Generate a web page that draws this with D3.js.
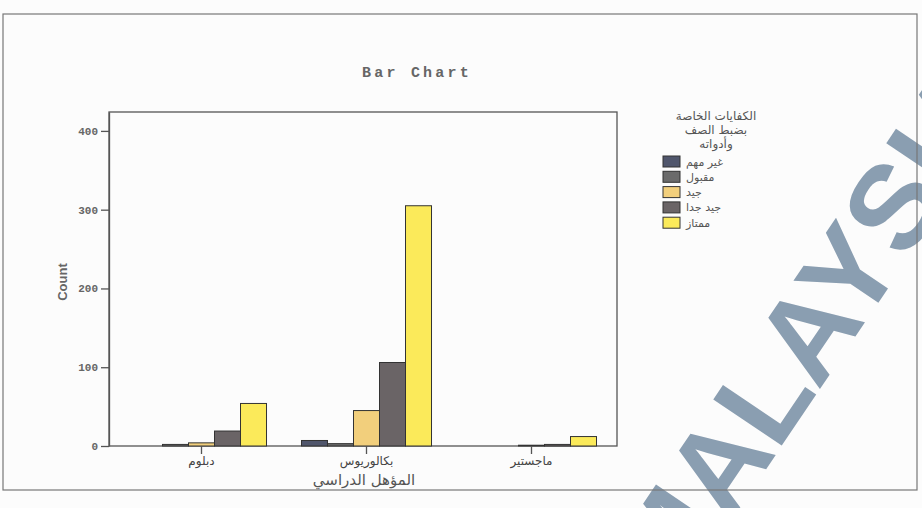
<!DOCTYPE html>
<html>
<head>
<meta charset="utf-8">
<script src="https://cdn.jsdelivr.net/npm/d3@7/dist/d3.min.js"></script>
<style>
  html, body { margin: 0; padding: 0; background: #fcfcfc; }
  svg { display: block; }
</style>
</head>
<body>
<div id="chart"></div>
<script>
// ---- data ----
const categories = ["دبلوم", "بكالوريوس", "ماجستير"];
const seriesNames = ["غير مهم", "مقبول", "جيد", "جيد جدا", "ممتاز"];
const ghairMuhim   = [0, 7, 0];
const maqbul       = [2, 3, 0];
const jayyid       = [4, 45, 1];
const jayyidJiddan = [19, 106, 2];
const mumtaz       = [54, 305, 12];
const yTicks = [0, 100, 200, 300, 400];
const legendTitleLines = ["الكفايات الخاصة", "بضبط الصف", "وأدواته"];
const chartTitle = "Bar Chart";
const xTitle = "المؤهل الدراسي";
const yTitle = "Count";
const watermark = "MALAYSIA";

const seriesValues = [ghairMuhim, maqbul, jayyid, jayyidJiddan, mumtaz];
const colors = ["#50566c", "#6b6b6b", "#f2cf7c", "#6a6466", "#fbea5a"];

const W = 922, H = 508;
const plot = { left: 109, right: 617, top: 112, bottom: 446 };

const svg = d3.select("#chart").append("svg")
  .attr("width", W).attr("height", H);

// watermark
svg.append("text")
  .attr("x", 673).attr("y", 607)
  .attr("transform", "rotate(-56,673,607)")
  .attr("font-family", "Liberation Sans, Arial, sans-serif")
  .attr("font-weight", "bold")
  .attr("font-size", 120)
  .attr("fill", "#7e94a9")
  .attr("opacity", 0.9)
  .text(watermark);

// outer frame
svg.append("rect")
  .attr("x", 3).attr("y", 14).attr("width", 914).attr("height", 476)
  .attr("fill", "none").attr("stroke", "#777").attr("stroke-width", 1.2);

const x0 = d3.scaleBand().domain(categories).range([119, 614])
  .paddingInner(0.212).paddingOuter(0.106);
const x1 = d3.scaleBand().domain(seriesNames).range([0, x0.bandwidth()]);
const y = d3.scaleLinear().domain([0, 424]).range([plot.bottom, plot.top]);

// plot frame
svg.append("rect")
  .attr("x", plot.left).attr("y", plot.top)
  .attr("width", plot.right - plot.left).attr("height", plot.bottom - plot.top)
  .attr("fill", "none").attr("stroke", "#555").attr("stroke-width", 1.3);

// bars
const groups = svg.append("g").selectAll("g")
  .data(categories).join("g")
  .attr("transform", d => `translate(${x0(d)},0)`);

groups.selectAll("rect")
  .data((c, ci) => seriesNames.map((s, si) => ({ s, si, v: seriesValues[si][ci] })))
  .join("rect")
  .filter(d => d.v > 0)
  .attr("x", d => x1(d.s))
  .attr("y", d => y(d.v))
  .attr("width", x1.bandwidth())
  .attr("height", d => y(0) - y(d.v))
  .attr("fill", d => colors[d.si])
  .attr("stroke", "#333")
  .attr("stroke-width", 1);

// y axis
const yAxis = svg.append("g")
  .attr("transform", `translate(${plot.left},0)`)
  .call(d3.axisLeft(y).tickValues(yTicks).tickSize(8).tickSizeOuter(0).tickPadding(3).tickFormat(d3.format("d")));
yAxis.select(".domain").attr("stroke", "#555").attr("stroke-width", 1.3);
yAxis.selectAll(".tick line").attr("stroke", "#555").attr("stroke-width", 1.3);
yAxis.selectAll(".tick text")
  .attr("font-family", "Liberation Mono, monospace")
  .attr("font-weight", "bold")
  .attr("font-size", 11)
  .attr("fill", "#666");

// x axis
const xAxis = svg.append("g")
  .attr("transform", `translate(0,${plot.bottom})`)
  .call(d3.axisBottom(x0).tickSize(8).tickSizeOuter(0).tickPadding(2));
xAxis.select(".domain").remove();
xAxis.selectAll(".tick line").attr("stroke", "#555").attr("stroke-width", 1.3);
xAxis.selectAll(".tick text")
  .attr("font-family", "DejaVu Sans, sans-serif")
  .attr("font-size", 12)
  .attr("fill", "#444");

// titles
svg.append("text")
  .attr("x", 417).attr("y", 77)
  .attr("text-anchor", "middle")
  .attr("font-family", "Liberation Mono, monospace")
  .attr("font-weight", "bold")
  .attr("font-size", 15)
  .attr("letter-spacing", 3.2)
  .attr("fill", "#666")
  .text(chartTitle);

svg.append("text")
  .attr("transform", "translate(67,282) rotate(-90)")
  .attr("text-anchor", "middle")
  .attr("font-family", "Liberation Sans, Arial, sans-serif")
  .attr("font-weight", "bold")
  .attr("font-size", 13)
  .attr("fill", "#666")
  .text(yTitle);

svg.append("text")
  .attr("x", 364).attr("y", 485)
  .attr("text-anchor", "middle")
  .attr("font-family", "DejaVu Sans, sans-serif")
  .attr("font-size", 15)
  .attr("fill", "#555")
  .text(xTitle);

// legend
const legend = svg.append("g");
legend.selectAll("text.lt")
  .data(legendTitleLines).join("text")
  .attr("class", "lt")
  .attr("x", 716).attr("y", (d, i) => 120 + i * 14)
  .attr("text-anchor", "middle")
  .attr("font-family", "DejaVu Sans, sans-serif")
  .attr("font-size", 12)
  .attr("fill", "#555")
  .text(d => d);

const items = legend.selectAll("g.item")
  .data(seriesNames).join("g")
  .attr("class", "item")
  .attr("transform", (d, i) => `translate(663,${156 + i * 15.3})`);
items.append("rect")
  .attr("width", 17).attr("height", 11)
  .attr("fill", (d, i) => colors[i])
  .attr("stroke", "#333").attr("stroke-width", 1);
items.append("text")
  .attr("x", 23).attr("y", 9.5)
  .attr("font-family", "DejaVu Sans, sans-serif")
  .attr("font-size", 11)
  .attr("fill", "#555")
  .text(d => d);
</script>
</body>
</html>
